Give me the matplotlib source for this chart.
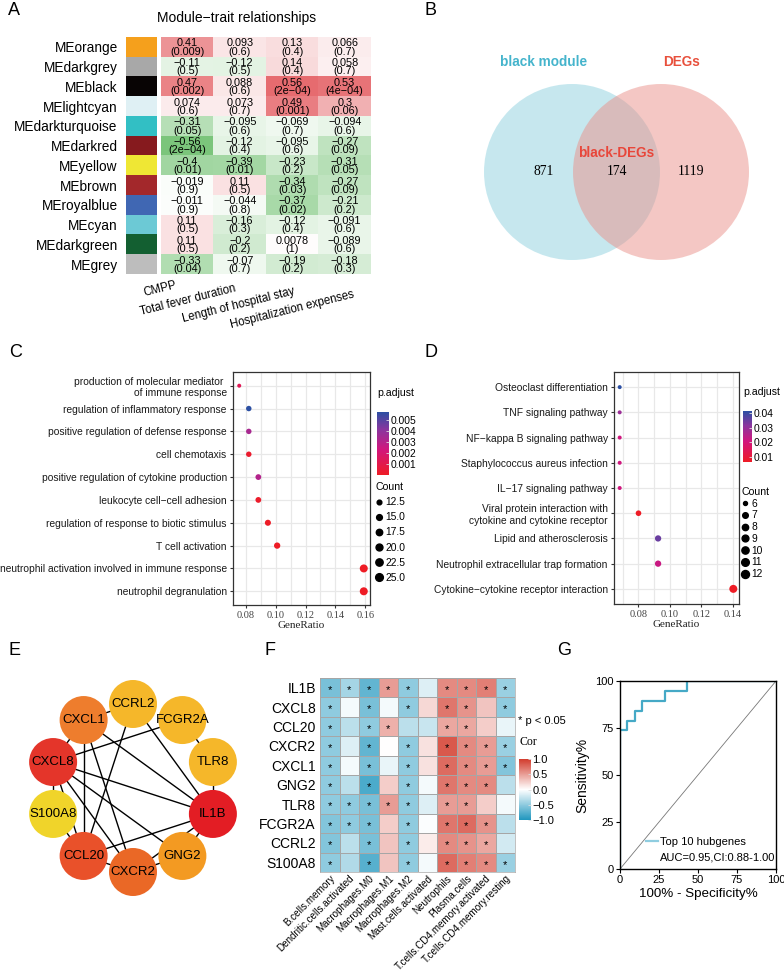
import numpy as np
import matplotlib
matplotlib.use("Agg")
import matplotlib.pyplot as plt
from matplotlib.colors import LinearSegmentedColormap, Normalize, to_rgb
from matplotlib.patches import Circle
from matplotlib.lines import Line2D
from matplotlib.ticker import MultipleLocator, FormatStrFormatter

plt.rcParams['font.family'] = ['Liberation Sans', 'DejaVu Sans']
SERIF = ['Liberation Serif', 'DejaVu Serif']
MINUS = '\u2212'

# ---------------- A: module-trait relationships
me_names = ['MEorange', 'MEdarkgrey', 'MEblack', 'MElightcyan', 'MEdarkturquoise', 'MEdarkred',
            'MEyellow', 'MEbrown', 'MEroyalblue', 'MEcyan', 'MEdarkgreen', 'MEgrey']
me_colors = ['#f5a01c', '#a8a8a8', '#080404', '#dff0f4', '#32bfc4', '#861a1e',
             '#efe734', '#a3282b', '#4067b3', '#6cc9d5', '#135f31', '#bdbdbd']
traits = ['CMPP', 'Total fever duration', 'Length of hospital stay', 'Hospitalization expenses']
me_cor = [[0.41, 0.093, 0.13, 0.066],
          [-0.11, -0.12, 0.14, 0.058],
          [0.47, 0.088, 0.56, 0.53],
          [0.074, 0.073, 0.49, 0.3],
          [-0.31, -0.095, -0.069, -0.094],
          [-0.56, -0.12, -0.095, -0.27],
          [-0.4, -0.39, -0.23, -0.31],
          [-0.019, 0.11, -0.34, -0.27],
          [-0.011, -0.044, -0.37, -0.21],
          [0.11, -0.16, -0.12, -0.091],
          [0.11, -0.2, 0.0078, -0.089],
          [-0.33, -0.07, -0.19, -0.18]]
me_p = [['0.009', '0.6', '0.4', '0.7'],
        ['0.5', '0.5', '0.4', '0.7'],
        ['0.002', '0.6', '2e-04', '4e-04'],
        ['0.6', '0.7', '0.001', '0.06'],
        ['0.05', '0.6', '0.7', '0.6'],
        ['2e-04', '0.4', '0.6', '0.09'],
        ['0.01', '0.01', '0.2', '0.05'],
        ['0.9', '0.5', '0.03', '0.09'],
        ['0.9', '0.8', '0.02', '0.2'],
        ['0.5', '0.3', '0.4', '0.6'],
        ['0.5', '0.2', '1', '0.6'],
        ['0.04', '0.7', '0.2', '0.3']]

# ---------------- B: venn
venn_sets = ['black module', 'DEGs']
venn_overlap = 'black-DEGs'
venn_counts = [871, 174, 1119]   # black only, both, DEGs only

# ---------------- C: GO enrichment
go_terms = ['production of molecular mediator \nof immune response',
            'regulation of inflammatory response',
            'positive regulation of defense response',
            'cell chemotaxis',
            'positive regulation of cytokine production',
            'leukocyte cell\u2212cell adhesion',
            'regulation of response to biotic stimulus',
            'T cell activation',
            'neutrophil activation involved in immune response',
            'neutrophil degranulation']
go_ratio = [0.0756, 0.082, 0.082, 0.082, 0.0884, 0.0884, 0.0948, 0.101, 0.159, 0.159]
go_count = [12, 14, 14, 14, 15, 15, 16, 17, 27, 27]
go_padj = [0.0013, 0.00575, 0.0034, 0.0003, 0.0031, 0.0002, 0.0001, 0.00005, 0.00004, 0.00004]
go_cbar_ticks = [0.001, 0.002, 0.003, 0.004, 0.005]
go_size_breaks = [12.5, 15.0, 17.5, 20.0, 22.5, 25.0]

# ---------------- D: KEGG enrichment
kegg_terms = ['Osteoclast differentiation',
              'TNF signaling pathway',
              'NF\u2212kappa B signaling pathway',
              'Staphylococcus aureus infection',
              'IL\u221217 signaling pathway',
              'Viral protein interaction with\ncytokine and cytokine receptor',
              'Lipid and atherosclerosis',
              'Neutrophil extracellular trap formation',
              'Cytokine\u2212cytokine receptor interaction']
kegg_ratio = [0.068, 0.068, 0.068, 0.068, 0.068, 0.080, 0.0925, 0.0925, 0.1405]
kegg_count = [6, 6, 6, 6, 6, 7, 8, 8, 12]
kegg_padj = [0.0414, 0.029, 0.021, 0.021, 0.021, 0.0068, 0.035, 0.022, 0.0066]
kegg_cbar_ticks = [0.01, 0.02, 0.03, 0.04]
kegg_size_breaks = [6, 7, 8, 9, 10, 11, 12]

# ---------------- E: PPI network of hub genes
hub_genes = ['CCRL2', 'FCGR2A', 'TLR8', 'IL1B', 'GNG2', 'CXCR2', 'CCL20', 'S100A8', 'CXCL8', 'CXCL1']
hub_colors = ['#f5b72a', '#f5b72a', '#f5b72a', '#e31d24', '#f39a22', '#ea6826', '#e9512a',
              '#f0d42a', '#e4352a', '#ee7d2d']
ppi_edges = [('CXCL1', 'CCRL2'), ('CXCL1', 'CXCL8'), ('CXCL1', 'IL1B'), ('CXCL1', 'CCL20'),
             ('CXCL1', 'CXCR2'), ('CCRL2', 'CCL20'), ('CCRL2', 'IL1B'), ('FCGR2A', 'CXCL8'),
             ('FCGR2A', 'TLR8'), ('TLR8', 'IL1B'), ('CXCL8', 'IL1B'), ('CXCL8', 'GNG2'),
             ('CXCL8', 'CXCR2'), ('CXCL8', 'CCL20'), ('CXCL8', 'S100A8'), ('S100A8', 'CCL20'),
             ('CCL20', 'CXCR2'), ('CCL20', 'IL1B'), ('CXCR2', 'GNG2'), ('CXCR2', 'IL1B'),
             ('GNG2', 'IL1B')]

# ---------------- F: immune infiltration correlation
imm_genes = ['IL1B', 'CXCL8', 'CCL20', 'CXCR2', 'CXCL1', 'GNG2', 'TLR8', 'FCGR2A', 'CCRL2', 'S100A8']
imm_cells = ['B.cells.memory', 'Dendritic.cells.activated', 'Macrophages.M0', 'Macrophages.M1',
             'Macrophages.M2', 'Mast.cells.activated', 'Neutrophils', 'Plasma.cells',
             'T.cells.CD4.memory.activated', 'T.cells.CD4.memory.resting']
imm_cor = [[-0.6, -0.4, -0.7, 0.5, -0.5, -0.15, 0.6, 0.6, 0.65, -0.45],
           [-0.5, -0.05, -0.6, -0.05, -0.5, 0.2, 0.7, 0.55, 0.3, -0.5],
           [-0.5, -0.3, -0.5, 0.4, -0.3, -0.25, 0.45, 0.45, 0.25, -0.1],
           [-0.5, -0.15, -0.7, 0.0, -0.5, 0.15, 0.85, 0.6, 0.5, -0.45],
           [-0.5, -0.05, -0.6, -0.1, -0.5, 0.15, 0.75, 0.6, 0.5, -0.55],
           [-0.5, -0.3, -0.8, 0.25, -0.5, -0.05, 0.7, 0.6, 0.6, -0.3],
           [-0.5, -0.5, -0.6, 0.5, -0.5, -0.15, 0.5, 0.5, 0.25, -0.05],
           [-0.55, -0.5, -0.6, 0.25, -0.5, -0.02, 0.7, 0.75, 0.55, -0.3],
           [-0.55, -0.3, -0.6, 0.3, -0.5, 0.1, 0.6, 0.55, 0.45, -0.2],
           [-0.5, -0.35, -0.75, 0.3, -0.5, -0.05, 0.75, 0.65, 0.6, -0.45]]
imm_sig = [[1, 1, 1, 1, 1, 0, 1, 1, 1, 1],
           [1, 0, 1, 0, 1, 0, 1, 1, 0, 1],
           [1, 0, 1, 1, 0, 0, 1, 1, 0, 0],
           [1, 0, 1, 0, 1, 0, 1, 1, 1, 1],
           [1, 0, 1, 0, 1, 0, 1, 1, 1, 1],
           [1, 0, 1, 0, 1, 0, 1, 1, 1, 0],
           [1, 1, 1, 1, 1, 0, 1, 1, 0, 0],
           [1, 1, 1, 0, 1, 0, 1, 1, 1, 0],
           [1, 0, 1, 0, 1, 0, 1, 1, 1, 0],
           [1, 0, 1, 0, 1, 0, 1, 1, 1, 1]]
cor_ticks = [1.0, 0.5, 0.0, -0.5, -1.0]

# ---------------- G: ROC
roc_fpr = [0, 0, 4.76, 4.76, 9.52, 9.52, 14.29, 14.29, 28.57, 28.57, 42.86, 42.86, 100]
roc_tpr = [0, 73.68, 73.68, 78.95, 78.95, 84.21, 84.21, 89.47, 89.47, 94.74, 94.74, 100, 100]
roc_auc, roc_ci = 0.95, (0.88, 1.00)
roc_label = 'Top 10 hubgenes'

W, H = 784, 973
fig = plt.figure(figsize=(W / 100, H / 100), dpi=100)


def px_axes(x0, y0, x1, y1):
    return fig.add_axes([x0 / W, 1 - y1 / H, (x1 - x0) / W, (y1 - y0) / H])


def px_text(x, y, s, **kw):
    return fig.text(x / W, 1 - y / H, s, **kw)


for lab, (x, y) in zip('ABCDEFG', [(8, 2), (425, 2), (9, 344), (424, 344), (9, 642), (264, 642), (557, 642)]):
    px_text(x, y, lab, fontsize=13, va='top', ha='left')

# ---------------- A
gwr = LinearSegmentedColormap.from_list('gwr', ['#5cb85c', '#ffffff', '#e0474c'])
ax_s = px_axes(126, 37, 157, 274)
ax_s.imshow(np.array([to_rgb(c) for c in me_colors])[:, None, :], aspect='auto')
ax_s.set_xticks([])
ax_s.set_yticks(range(len(me_names)), labels=me_names, fontsize=9.8)
ax_s.tick_params(length=0, pad=6)
for sp in ax_s.spines.values():
    sp.set_visible(False)

ax_a = px_axes(161, 37, 371, 274)
ax_a.imshow(np.array(me_cor), cmap=gwr, vmin=-0.7, vmax=0.7, aspect='auto')
for i in range(len(me_names)):
    for j in range(len(traits)):
        s = f"{me_cor[i][j]:g}\n({me_p[i][j]})".replace('-', MINUS)
        ax_a.text(j, i + 0.03, s, ha='center', va='center', fontsize=7.8, linespacing=0.8)
ax_a.set_xticks([])
ax_a.set_yticks([])
for sp in ax_a.spines.values():
    sp.set_visible(False)
for j, t in enumerate(traits):
    ax_a.text(j - 0.2 + 0.13 * j, len(me_names) - 0.5 + 0.72 + 0.15 * j, t, rotation=14,
              rotation_mode='anchor', ha='right', va='baseline', fontsize=8.3, clip_on=False)
px_text(237, 18, 'Module\u2212trait relationships', ha='center', va='center', fontsize=10)

# ---------------- B
ax_b = px_axes(400, 30, 784, 330)
ax_b.set_xlim(400, 784)
ax_b.set_ylim(330, 30)
ax_b.axis('off')
ax_b.add_patch(Circle((572, 172), 88, fc='#8ed1df', ec='none', alpha=0.5))
ax_b.add_patch(Circle((661, 172), 88, fc='#ea918a', ec='none', alpha=0.5))
ax_b.text(544, 62, venn_sets[0], color='#45b4cc', fontsize=9.8, fontweight='bold', ha='center', va='center')
ax_b.text(681, 62, venn_sets[1], color='#e8503c', fontsize=9.8, fontweight='bold', ha='center', va='center')
ax_b.text(616, 153, venn_overlap, color='#e8463a', fontsize=9.8, fontweight='bold', ha='center', va='center')
for x, v in zip([544, 617, 691], venn_counts):
    ax_b.text(x, 172, str(v), fontsize=9.8, family=SERIF, ha='center', va='center')

# ---------------- C / D
padj_cmap = LinearSegmentedColormap.from_list(
    'padj', [(0, '#ee1c25'), (0.4, '#d2157c'), (0.72, '#8a359e'), (1, '#2b4fa3')])


def dot_px(c, cmin, cmax, dmin=4.0, dmax=8.0):
    r = np.clip((np.asarray(c, float) - cmin) / (cmax - cmin), 0, 1)
    return dmin + (dmax - dmin) * np.sqrt(r)


def enrich_panel(box, terms, ratio, count, padj, cbar_box, cbar_ticks, size_breaks, legend_xy, spacing):
    ax = px_axes(*box)
    n = len(terms)
    ypos = np.arange(n)[::-1]
    lo, hi = min(ratio), max(ratio)
    pad = (hi - lo) * 0.05
    ax.set_xlim(lo - pad, hi + pad)
    ax.set_ylim(-0.6, n - 0.4)
    cmin, cmax = min(count), max(count)
    sc = ax.scatter(ratio, ypos, s=(dot_px(count, cmin, cmax) * 0.72) ** 2, c=padj, cmap=padj_cmap,
                    norm=Normalize(min(padj), max(padj)), linewidths=0, zorder=3)
    ax.set_yticks(ypos, labels=terms, fontsize=7.4, color='#1a1a1a')
    ax.xaxis.set_major_locator(MultipleLocator(0.02))
    ax.xaxis.set_minor_locator(MultipleLocator(0.01))
    ax.xaxis.set_major_formatter(FormatStrFormatter('%.2f'))
    for t in ax.get_xticklabels():
        t.set_family(SERIF)
    ax.tick_params(axis='x', labelsize=7.5, labelcolor='#444444', length=2.5, pad=1.5, color='#333333')
    ax.tick_params(axis='y', length=2.5, pad=2, color='#333333')
    ax.tick_params(which='minor', length=0)
    ax.grid(True, which='both', color='#e8e8e8', lw=0.9)
    ax.set_axisbelow(True)
    for sp in ax.spines.values():
        sp.set_color('#333333')
        sp.set_linewidth(0.9)
    ax.set_xlabel('GeneRatio', family=SERIF, fontsize=8, labelpad=1, color='#222222')

    cax = px_axes(*cbar_box)
    cb = fig.colorbar(sc, cax=cax, ticks=cbar_ticks)
    cb.outline.set_visible(False)
    cax.set_yticklabels([f'{t:g}' for t in cbar_ticks])
    cax.tick_params(labelsize=7.4, length=2.5, width=0.6, color='#dddddd', direction='in', pad=1)
    px_text(cbar_box[0], cbar_box[1] - 19, 'p.adjust', fontsize=7.6, va='center', ha='left')

    handles = [Line2D([0], [0], marker='o', ls='none', color='black',
                      markersize=dot_px(b, cmin, cmax) * 0.72) for b in size_breaks]
    fig.legend(handles, [f'{b:g}' if isinstance(b, int) else f'{b:.1f}' for b in size_breaks],
               title='Count', loc='upper left', bbox_to_anchor=(legend_xy[0] / W, 1 - legend_xy[1] / H),
               frameon=False, fontsize=7.4, title_fontsize=7.6, alignment='left', handlelength=0.8,
               handletextpad=0.2, labelspacing=spacing, borderpad=0, borderaxespad=0)
    return ax


enrich_panel((233, 372, 370, 605), go_terms, go_ratio, go_count, go_padj,
             (377, 412, 389, 475), go_cbar_ticks, go_size_breaks, (375, 482), 0.5)
enrich_panel((614, 372, 739, 604), kegg_terms, kegg_ratio, kegg_count, kegg_padj,
             (743, 411, 752, 462), kegg_cbar_ticks, kegg_size_breaks, (741, 487), 0.17)

# ---------------- E
ax_e = px_axes(0, 660, 265, 960)
ax_e.set_xlim(0, 265)
ax_e.set_ylim(960, 660)
ax_e.axis('off')
ang = np.deg2rad(90 - 360 / len(hub_genes) * np.arange(len(hub_genes)))
node_x = 133 + 84 * np.cos(ang)
node_y = 788 - 84 * np.sin(ang)
pos = {g: (x, y) for g, x, y in zip(hub_genes, node_x, node_y)}
for a, b in ppi_edges:
    ax_e.plot([pos[a][0], pos[b][0]], [pos[a][1], pos[b][1]], color='black', lw=1.0, zorder=1)
for g, c in zip(hub_genes, hub_colors):
    ax_e.add_patch(Circle(pos[g], 24, fc=c, ec='none', zorder=2))
    ax_e.text(pos[g][0], pos[g][1], g, ha='center', va='center', fontsize=9.5, zorder=3)

# ---------------- F
cor_cmap = LinearSegmentedColormap.from_list('cor', ['#1f96be', '#ffffff', '#d23c2d'])
ax_f = px_axes(320, 678, 515, 872)
mesh = ax_f.pcolormesh(np.array(imm_cor), cmap=cor_cmap, vmin=-1, vmax=1,
                       edgecolors='#a6a6a6', linewidth=0.5)
ax_f.set_xlim(0, len(imm_cells))
ax_f.set_ylim(len(imm_genes), 0)
for i in range(len(imm_genes)):
    for j in range(len(imm_cells)):
        if imm_sig[i][j]:
            ax_f.text(j + 0.5, i + 0.78, '*', ha='center', va='baseline', fontsize=8)
ax_f.set_yticks(np.arange(len(imm_genes)) + 0.5, labels=imm_genes, fontsize=10)
ax_f.set_xticks(np.arange(len(imm_cells)) + 0.5)
ax_f.set_xticklabels(imm_cells, rotation=45, ha='right', rotation_mode='anchor', fontsize=7.1)
ax_f.tick_params(axis='y', length=0, pad=3)
ax_f.tick_params(axis='x', length=0, pad=1)
for sp in ax_f.spines.values():
    sp.set_color('#a6a6a6')
    sp.set_linewidth(0.5)
px_text(518, 721, '* p < 0.05', fontsize=8, va='center', ha='left')
px_text(519, 742, 'Cor', fontsize=8.5, va='center', ha='left', family=SERIF)
cax_f = px_axes(519, 759, 531, 820)
cb_f = fig.colorbar(mesh, cax=cax_f, ticks=cor_ticks)
cb_f.outline.set_visible(False)
cax_f.set_yticklabels([f'{t:.1f}'.replace('-', MINUS) for t in cor_ticks])
cax_f.tick_params(labelsize=8, length=2.5, width=0.6, color='#dddddd', direction='in', pad=1)

# ---------------- G
ax_g = px_axes(620, 681, 776, 869)
ax_g.plot([0, 100], [0, 100], color='#777777', lw=0.6)
ax_g.plot(roc_fpr, roc_tpr, color='#45a9c6', lw=1.6)
ax_g.set_xlim(0, 100)
ax_g.set_ylim(0, 100)
ax_g.set_xticks([0, 25, 50, 75, 100])
ax_g.set_yticks([0, 25, 50, 75, 100])
ax_g.tick_params(labelsize=8, length=3, pad=1.5)
for sp in ax_g.spines.values():
    sp.set_linewidth(1.0)
ax_g.set_ylabel('Sensitivity%', fontsize=10, labelpad=4)
ax_g.set_xlabel('100% - Specificity%', fontsize=9.6, labelpad=2)
ax_g.legend([Line2D([0], [0], color='#8fcde0', lw=1.6)], [roc_label], loc='center left',
            bbox_to_anchor=(0.165, (869 - 842) / 188), frameon=False, fontsize=8,
            handlelength=1.1, handletextpad=0.15, borderpad=0, borderaxespad=0)
ax_g.text(0.255, (869 - 857) / 188, f'AUC={roc_auc:.2f},CI:{roc_ci[0]:.2f}-{roc_ci[1]:.2f}',
          transform=ax_g.transAxes, fontsize=8, va='center', ha='left')

fig.savefig('out.png', dpi=100)
